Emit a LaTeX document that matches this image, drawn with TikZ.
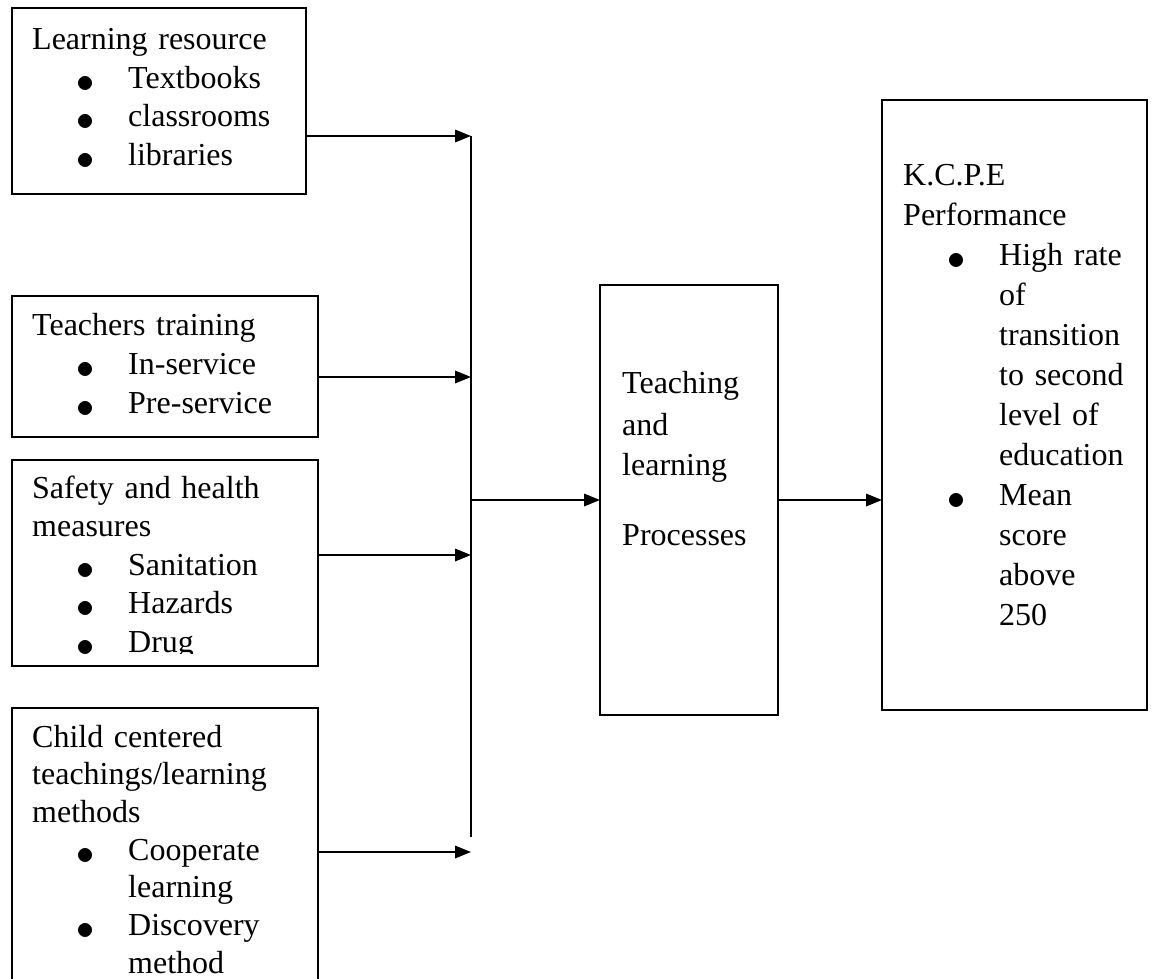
\documentclass[tikz,border=0pt]{standalone}
\usepackage{fontspec}
\setmainfont{Liberation Serif}
\usetikzlibrary{arrows.meta,calc}
\newcommand{\bitem}[1]{\hspace*{44pt}\makebox[52pt][l]{\raisebox{-4pt}{\scalebox{1.45}{$\bullet$}}}#1}
\newcommand{\bcont}[1]{\hspace*{96pt}#1}
\begin{document}
\begin{tikzpicture}[x=1pt,y=-1pt,
  box/.style={draw,line width=1.8pt,rectangle,inner sep=0pt,outer sep=0pt,anchor=north west},
  txt/.style={anchor=base west,inner sep=0pt,align=left,text width=#1,font=\fontsize{32}{38.5}\selectfont},
  arr/.style={line width=1.8pt,-{Triangle[length=16pt,width=12.5pt]}}]
\path[use as bounding box,clip] (0,0) rectangle (1153,979);
\node[box,minimum width=294pt,minimum height=186pt] (res) at (12,8) {};
\node[txt=270pt] (res-t) at (32,50) {Learning resource\\ \bitem{Textbooks}\\ \bitem{classrooms}\\ \bitem{libraries}};
\node[box,minimum width=306pt,minimum height=141pt] (trn) at (12,296) {};
\node[txt=270pt,font=\fontsize{32}{39}\selectfont] (trn-t) at (32,335) {Teachers training\\ \bitem{In-service}\\ \bitem{Pre-service}};
\node[box,minimum width=306pt,minimum height=206pt] (saf) at (12,460) {};
\begin{scope}
  \clip (12,460) rectangle (318,653);
  \node[txt=270pt] (saf-t) at (32,498) {Safety and health\\ measures\\ \bitem{Sanitation}\\ \bitem{Hazards}\\ \bitem{Drug}};
\end{scope}
\node[box,minimum width=306pt,minimum height=320pt] (chd) at (12,708) {};
\node[txt=280pt,font=\fontsize{32}{37.7}\selectfont] (chd-t) at (32,747) {Child centered\\ teachings/learning\\ methods\\ \bitem{Cooperate}\\ \bcont{learning}\\ \bitem{Discovery}\\ \bcont{method}};
\node[box,minimum width=178pt,minimum height=430pt] (prc) at (600,285) {};
\node[txt=150pt] (prc-t) at (622,393) {Teaching\\[3.5pt] and\\[1.5pt] learning\\[31.5pt] Processes};
\node[box,minimum width=265pt,minimum height=610pt] (out) at (882,100) {};
\node[txt=240pt,font=\fontsize{32}{40}\selectfont] (out-t) at (903,185) {K.C.P.E\\ Performance\\ \bitem{High rate}\\ \bcont{of}\\ \bcont{transition}\\ \bcont{to second}\\ \bcont{level of}\\ \bcont{education}\\ \bitem{Mean}\\ \bcont{score}\\ \bcont{above}\\ \bcont{250}};
\coordinate (bt) at (471,136);
\coordinate (b2) at (471,377);
\coordinate (bm) at (471,500);
\coordinate (b3) at (471,555);
\coordinate (bb) at (471,837);
\coordinate (b4) at (471,852);
\draw[line width=1.8pt] (bt) -- (bb);
\draw[arr] (res.east |- bt) -- (bt);
\draw[arr] (trn.east |- b2) -- (b2);
\draw[arr] (saf.east |- b3) -- (b3);
\draw[arr] (chd.east |- b4) -- (b4);
\draw[arr] (bm) -- (prc.west);
\draw[arr] (prc.east) -- (out.west |- prc.east);
\end{tikzpicture}
\end{document}
